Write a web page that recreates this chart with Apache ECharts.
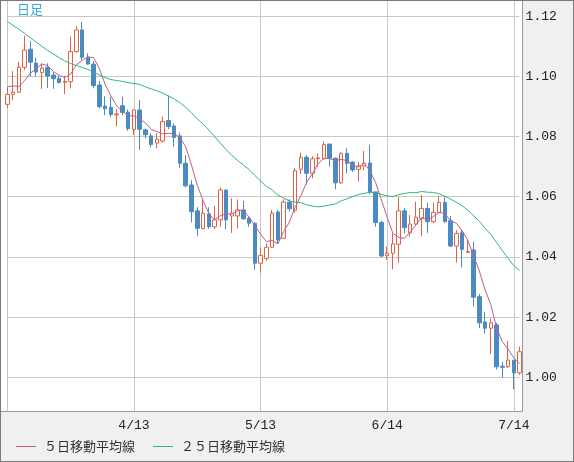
<!DOCTYPE html>
<html>
<head>
<meta charset="utf-8">
<script src="https://cdn.jsdelivr.net/npm/echarts@6/dist/echarts.min.js"></script>
<style>
html,body{margin:0;padding:0;background:#f0f0f0;}
#chart{width:574px;height:462px;}
</style>
</head>
<body>
<div id="chart"></div>
<script>
// Trading days (daily candles)
const dates = [
 '3/14','3/15','3/16','3/17','3/18','3/21','3/22','3/23','3/24','3/25','3/28','3/29','3/30','3/31',
 '4/1','4/4','4/5','4/6','4/7','4/8','4/11','4/12','4/13','4/14','4/15','4/18','4/19','4/20','4/21','4/22','4/25','4/26','4/27','4/28','4/29',
 '5/2','5/3','5/4','5/5','5/6','5/9','5/10','5/11','5/12','5/13','5/16','5/17','5/18','5/19','5/20','5/23','5/24','5/25','5/26','5/27','5/30','5/31',
 '6/1','6/2','6/3','6/6','6/7','6/8','6/9','6/10','6/13','6/14','6/15','6/16','6/17','6/20','6/21','6/22','6/23','6/24','6/27','6/28','6/29','6/30',
 '7/1','7/4','7/5','7/6','7/7','7/8','7/11','7/12','7/13','7/14','7/15'
];
const gridDates = ['3/14','4/13','5/13','6/14','7/14'];
const labelDates = ['4/13','5/13','6/14','7/14'];

const opens = [1.0907,1.0940,1.0947,1.1030,1.1090,1.1044,1.1012,1.1029,1.1004,1.0993,
1.0980,1.0982,1.1082,1.1154,1.1063,1.1040,1.0971,1.0901,1.0897,1.0872,
1.0902,1.0881,1.0824,1.0888,1.0822,1.0802,1.0778,1.0785,1.0853,1.0835,
1.0802,1.0711,1.0639,1.0553,1.0494,1.0543,1.0500,1.0523,1.0622,1.0536,
1.0536,1.0556,1.0528,1.0512,1.0379,1.0395,1.0432,1.0549,1.0462,1.0582,
1.0555,1.0691,1.0731,1.0678,1.0726,1.0726,1.0775,1.0728,1.0646,1.0744,
1.0715,1.0691,1.0702,1.0712,1.0616,1.0514,1.0405,1.0412,1.0442,1.0553,
1.0480,1.0509,1.0528,1.0561,1.0517,1.0548,1.0581,1.0520,1.0436,1.0480,
1.0415,1.0423,1.0268,1.0184,1.0163,1.0174,1.0037,1.0035,1.0057,1.0015];

const closes = [1.0940,1.0947,1.1030,1.1087,1.1047,1.1014,1.1027,1.1001,1.0992,1.0979,
1.0983,1.1082,1.1154,1.1063,1.1041,1.0969,1.0899,1.0892,1.0873,1.0875,
1.0880,1.0826,1.0888,1.0824,1.0806,1.0773,1.0791,1.0850,1.0833,1.0797,
1.0711,1.0636,1.0550,1.0495,1.0545,1.0500,1.0523,1.0622,1.0523,1.0545,
1.0556,1.0527,1.0512,1.0379,1.0405,1.0432,1.0545,1.0456,1.0582,1.0560,
1.0686,1.0731,1.0678,1.0726,1.0729,1.0773,1.0728,1.0646,1.0744,1.0711,
1.0689,1.0702,1.0711,1.0616,1.0514,1.0403,1.0412,1.0443,1.0553,1.0497,
1.0509,1.0532,1.0561,1.0517,1.0548,1.0581,1.0517,1.0436,1.0478,1.0425,
1.0418,1.0266,1.0181,1.0163,1.0181,1.0035,1.0033,1.0057,1.0015,1.0085];

const lows = [1.0896,1.0921,1.0945,1.1021,1.1000,1.1000,1.0958,1.0961,1.0958,1.0976,
1.0941,1.0960,1.1078,1.1054,1.1038,1.0960,1.0893,1.0871,1.0864,1.0833,
1.0871,1.0819,1.0805,1.0755,1.0794,1.0764,1.0761,1.0779,1.0824,1.0766,
1.0696,1.0631,1.0514,1.0469,1.0492,1.0494,1.0492,1.0500,1.0492,1.0480,
1.0494,1.0523,1.0500,1.0357,1.0348,1.0387,1.0429,1.0442,1.0459,1.0550,
1.0547,1.0675,1.0641,1.0661,1.0698,1.0724,1.0700,1.0625,1.0642,1.0678,
1.0682,1.0650,1.0688,1.0609,1.0500,1.0399,1.0390,1.0359,1.0381,1.0478,
1.0467,1.0503,1.0469,1.0480,1.0512,1.0545,1.0514,1.0432,1.0381,1.0365,
1.0414,1.0235,1.0163,1.0146,1.0077,1.0026,1.0000,1.0030,0.9960,1.0008];

const highs = [1.0964,1.1017,1.1048,1.1135,1.1117,1.1062,1.1043,1.1043,1.1014,1.1001,
1.1002,1.1132,1.1167,1.1181,1.1076,1.1050,1.0985,1.0934,1.0932,1.0890,
1.0932,1.0890,1.0890,1.0921,1.0826,1.0811,1.0811,1.0866,1.0936,1.0844,
1.0813,1.0738,1.0655,1.0565,1.0591,1.0565,1.0569,1.0631,1.0625,1.0595,
1.0591,1.0586,1.0532,1.0514,1.0432,1.0445,1.0556,1.0556,1.0592,1.0592,
1.0694,1.0746,1.0738,1.0735,1.0744,1.0784,1.0775,1.0730,1.0748,1.0761,
1.0718,1.0715,1.0752,1.0772,1.0616,1.0520,1.0435,1.0478,1.0598,1.0563,
1.0539,1.0583,1.0606,1.0580,1.0580,1.0602,1.0600,1.0536,1.0489,1.0489,
1.0458,1.0451,1.0277,1.0218,1.0196,1.0181,1.0052,1.0121,1.0057,1.0102];

// Moving-average values at the start of the window (need days before 3/14)
const ma5Lead = [1.0965,1.0968,1.0966,1.0985];
const ma25Lead = [1.1182,1.1169,1.1156,1.1143,1.1128,1.1114,1.1100,1.1086,1.1074,1.1062,
1.1051,1.1043,1.1036,1.1029,1.1023,1.1014,1.1004,1.0996,1.0989,1.0986,1.0983,1.0979,1.0976,1.0973];

const yTickValues = [1.00,1.02,1.04,1.06,1.08,1.10,1.12];

function movingAverage(n, lead){
  return closes.map((c,i)=>{
    if(i < n-1) return lead[i];
    let s = 0;
    for(let k=i-n+1;k<=i;k++) s += closes[k];
    return +(s/n).toFixed(5);
  });
}
const ma5 = movingAverage(5, ma5Lead);
const ma25 = movingAverage(25, ma25Lead);
const candles = dates.map((d,i)=>[opens[i], closes[i], lows[i], highs[i]]);

const chart = echarts.init(document.getElementById('chart'), null, {renderer:'canvas'});
const monoFont = '"Liberation Mono", "DejaVu Sans Mono", monospace';
const jpFont = '"Noto Sans CJK JP", sans-serif';

chart.setOption({
  animation:false,
  backgroundColor:'#f0f0f0',
  grid:{left:7.3, right:54.4, top:0.5, bottom:50.5},
  graphic:[
    {type:'rect', z:-10, shape:{x:0.5,y:0.5,width:522,height:411}, style:{fill:'#ffffff', stroke:null}},
    {type:'rect', z:100, silent:true, shape:{x:0.5,y:0.5,width:522,height:411}, style:{fill:null, stroke:'#9a9a9a', lineWidth:1}},
    {type:'rect', z:101, silent:true, shape:{x:0,y:0,width:574,height:462}, style:{fill:null, stroke:'#7a7a7a', lineWidth:2}},
    {type:'text', z:50, left:17, top:3, style:{text:'日足', fill:'#33aadd', font:'13px ' + jpFont}}
  ],
  legend:{
    left:16, top:440, padding:0, itemGap:18, itemWidth:20, itemHeight:1, icon:'rect',
    selectedMode:false,
    textStyle:{fontSize:13, color:'#333', fontFamily:jpFont, padding:[0,0,0,3]},
    data:['５日移動平均線','２５日移動平均線']
  },
  xAxis:{
    type:'category', data:dates, boundaryGap:false,
    axisLine:{show:false}, axisTick:{show:false},
    axisLabel:{interval:(i,v)=>labelDates.includes(v), margin:8, color:'#222', fontSize:13, fontFamily:monoFont},
    splitLine:{show:true, interval:(i,v)=>gridDates.includes(v), lineStyle:{color:'#c8c8c8', width:1}}
  },
  yAxis:{
    type:'value', position:'right', min:0.98864, max:1.12518, splitNumber:7,
    axisLine:{show:false}, axisTick:{show:false},
    axisLabel:{
      margin:6, color:'#222', fontSize:13, fontFamily:monoFont, showMinLabel:false, showMaxLabel:false,
      formatter:v=>{ const t = yTickValues.find(x=>Math.abs(x-v)<1e-6); return t===undefined ? '' : t.toFixed(2); }
    },
    splitLine:{lineStyle:{color:'#c8c8c8', width:1}}
  },
  series:[
    {type:'candlestick', data:candles, barWidth:4, clip:false, z:2,
     itemStyle:{color:'#ffffff', color0:'#4a8bc4', borderColor:'#dc6446', borderColor0:'#4a8bc4', borderColorDoji:'#dc6446', borderWidth:1}},
    {name:'５日移動平均線', type:'line', data:ma5, showSymbol:false, symbol:'none', z:4,
     lineStyle:{color:'#bb5f8e', width:1}, itemStyle:{color:'#bb5f8e'}},
    {name:'２５日移動平均線', type:'line', data:ma25, showSymbol:false, symbol:'none', z:4,
     lineStyle:{color:'#2fb87a', width:1}, itemStyle:{color:'#2fb87a'}}
  ]
});
</script>
</body>
</html>
